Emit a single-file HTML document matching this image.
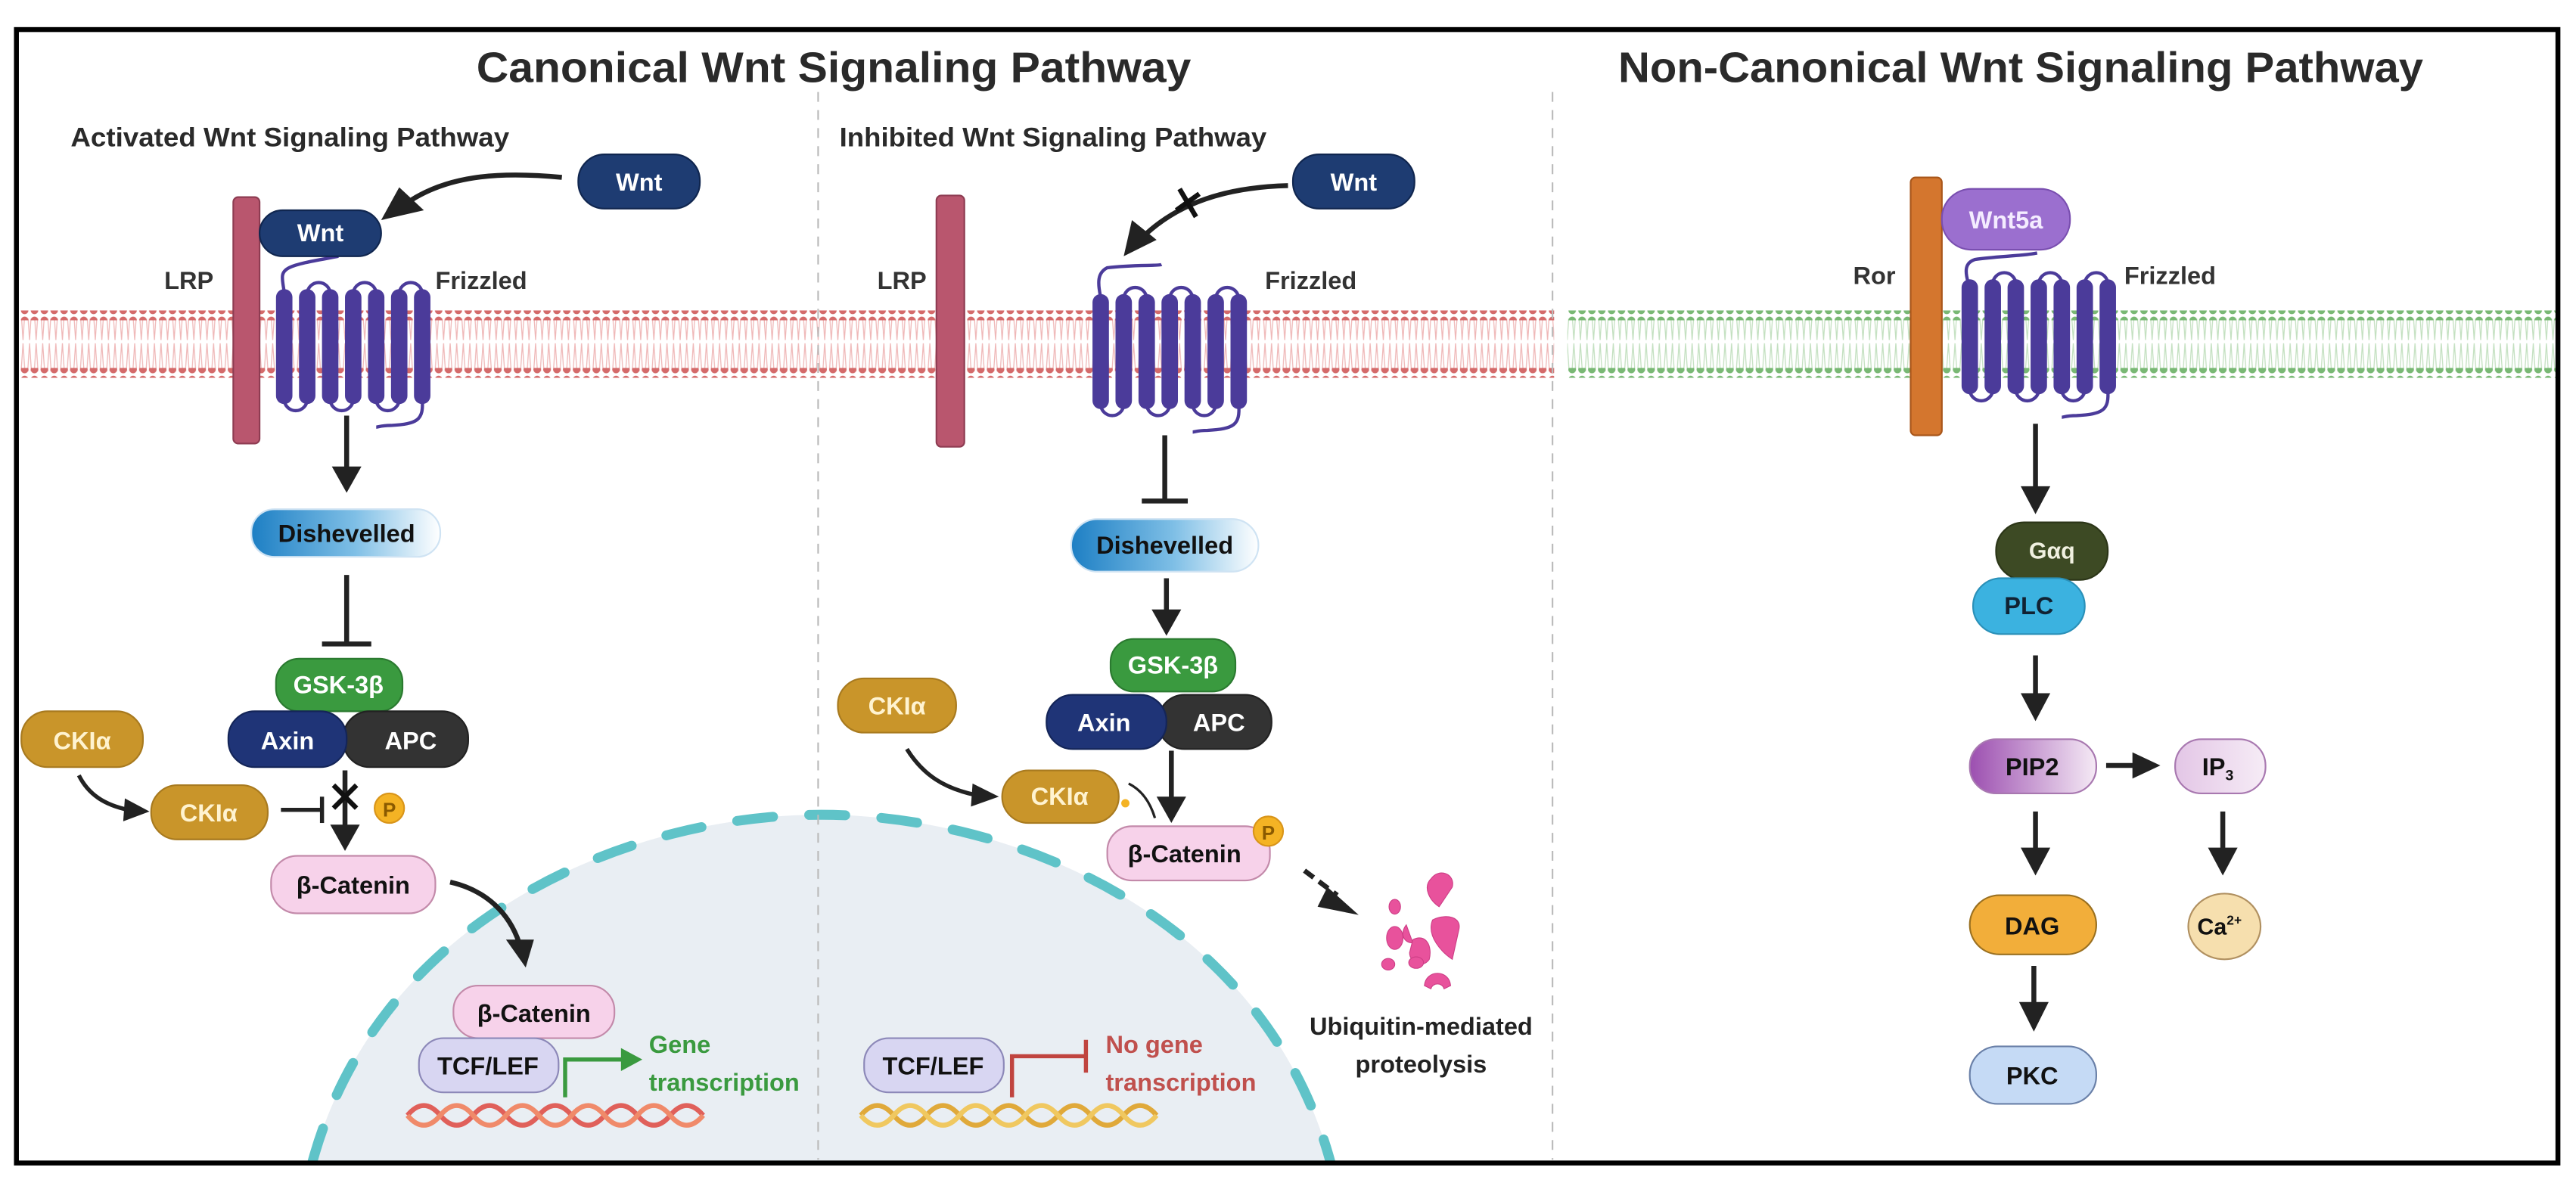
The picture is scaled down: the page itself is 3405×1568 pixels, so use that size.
<!DOCTYPE html>
<html><head><meta charset="utf-8"><style>
html,body{margin:0;padding:0;background:#fff;}
svg{display:block;}
text{font-family:"Liberation Sans",sans-serif;font-weight:bold;}
</style></head><body>
<svg width="3405" height="1568" viewBox="0 0 1568 722" preserveAspectRatio="none" xmlns="http://www.w3.org/2000/svg">
<defs>
<pattern id="rd" x="0" y="0" width="6" height="6" patternUnits="userSpaceOnUse"><circle cx="3" cy="3" r="2.3" fill="#d46a6a"/></pattern>
<pattern id="gd" x="0" y="0" width="6" height="6" patternUnits="userSpaceOnUse"><circle cx="3" cy="3" r="2.3" fill="#79b874"/></pattern>
<pattern id="rl" x="0" y="0" width="4" height="32" patternUnits="userSpaceOnUse"><path d="M1 0 L2 15 M3 0 L2 15 M1 32 L2 17 M3 32 L2 17" stroke="#efb8b8" stroke-width="0.6" fill="none"/></pattern>
<pattern id="gl" x="0" y="0" width="4" height="32" patternUnits="userSpaceOnUse"><path d="M1 0 L2 15 M3 0 L2 15 M1 32 L2 17 M3 32 L2 17" stroke="#c3e0c0" stroke-width="0.6" fill="none"/></pattern>
<linearGradient id="dsh" x1="0" x2="1"><stop offset="0" stop-color="#1d7fc4"/><stop offset="0.55" stop-color="#7fbfe6"/><stop offset="1" stop-color="#ffffff"/></linearGradient>
<linearGradient id="pip" x1="0" x2="1"><stop offset="0" stop-color="#9c4fb0"/><stop offset="1" stop-color="#f5eaf5"/></linearGradient>
<linearGradient id="ip3" x1="0" x2="1"><stop offset="0" stop-color="#e3c6e6"/><stop offset="1" stop-color="#f6ecf6"/></linearGradient>
<g id="fz">
  <g fill="none" stroke="#4b3b9a" stroke-width="2">
    <path d="M19 3 A7 7 0 0 1 33 3"/><path d="M47 3 A7 7 0 0 1 61 3"/><path d="M75 3 A7 7 0 0 1 89 3"/>
    <path d="M5 67 A7 7 0 0 0 19 67"/><path d="M33 67 A7 7 0 0 0 47 67"/><path d="M61 67 A7 7 0 0 0 75 67"/>
    <path d="M89 67 C90 80 86 82 70 83 C64 83 62 84 61 84"/>
  </g>
  <g fill="#4b3b9a">
    <rect x="0" y="0" width="10" height="70" rx="5"/><rect x="14" y="0" width="10" height="70" rx="5"/>
    <rect x="28" y="0" width="10" height="70" rx="5"/><rect x="42" y="0" width="10" height="70" rx="5"/>
    <rect x="56" y="0" width="10" height="70" rx="5"/><rect x="70" y="0" width="10" height="70" rx="5"/>
    <rect x="84" y="0" width="10" height="70" rx="5"/>
  </g>
</g>
</defs>

<!-- membranes -->
<rect x="12" y="194" width="934" height="32" fill="url(#rl)"/>
<rect x="12" y="189" width="934" height="6" fill="url(#rd)"/>
<rect x="12" y="224" width="934" height="6" fill="url(#rd)"/>
<rect x="954" y="194" width="602" height="32" fill="url(#gl)"/>
<rect x="954" y="189" width="602" height="6" fill="url(#gd)"/>
<rect x="954" y="224" width="602" height="6" fill="url(#gd)"/>

<!-- nucleus -->
<path d="M185 720 L190 708 C230 560 380 496 500 496 C620 496 770 560 810 708 L815 720 Z" fill="#e9eef3"/>
<path d="M190 708 C230 560 380 496 500 496 C620 496 770 560 810 708" fill="none" stroke="#5fc3c8" stroke-width="6" stroke-linecap="round" stroke-dasharray="22 22"/>
<rect x="12" y="709" width="1545" height="13" fill="#fff"/>

<!-- border & dividers -->
<line x1="498" y1="56" x2="498" y2="706" stroke="#bbb" stroke-width="1" stroke-dasharray="6 5"/>
<line x1="945" y1="56" x2="945" y2="706" stroke="#bbb" stroke-width="1" stroke-dasharray="6 5"/>
<rect x="10" y="18" width="1547" height="690" fill="none" stroke="#000" stroke-width="3"/>

<!-- titles -->
<text x="290" y="50" font-size="26" fill="#2a2a2a" textLength="435" lengthAdjust="spacingAndGlyphs">Canonical Wnt Signaling Pathway</text>
<text x="985" y="50" font-size="26" fill="#2a2a2a" textLength="490" lengthAdjust="spacingAndGlyphs">Non-Canonical Wnt Signaling Pathway</text>
<text x="43" y="89" font-size="16" fill="#2a2a2a" textLength="267" lengthAdjust="spacingAndGlyphs">Activated Wnt Signaling Pathway</text>
<text x="511" y="89" font-size="16" fill="#2a2a2a" textLength="260" lengthAdjust="spacingAndGlyphs">Inhibited Wnt Signaling Pathway</text>

<!-- ===== Activated ===== -->
<rect x="142" y="120" width="16" height="150" rx="3" fill="#b9566e" stroke="#8e3c52"/>
<text x="100" y="176" font-size="15" fill="#333">LRP</text>
<text x="265" y="176" font-size="15" fill="#333">Frizzled</text>
<path d="M173 178 C172 170 170 166 176 163 C182 160 196 158 206 156" stroke="#4b3b9a" stroke-width="2" fill="none"/>
<use href="#fz" x="168" y="176"/>
<rect x="158" y="128" width="74" height="28" rx="14" fill="#1e3c72" stroke="#10264f"/>
<text x="195" y="147" font-size="15" fill="#fff" text-anchor="middle">Wnt</text>
<rect x="352" y="94" width="74" height="33" rx="16" fill="#1e3c72" stroke="#10264f"/>
<text x="389" y="116" font-size="15" fill="#fff" text-anchor="middle">Wnt</text>
<path d="M342 108 C300 104 272 108 250 122" stroke="#222" stroke-width="3" fill="none"/>
<path d="M232 134 L243 114 L258 128 Z" fill="#222"/>
<line x1="211" y1="253" x2="211" y2="286" stroke="#222" stroke-width="3"/>
<path d="M202 284 L220 284 L211 300 Z" fill="#222"/>
<rect x="153" y="310" width="115" height="29" rx="14" fill="url(#dsh)" stroke="#cfe3f3"/>
<text x="211" y="330" font-size="15" fill="#111" text-anchor="middle">Dishevelled</text>
<line x1="211" y1="350" x2="211" y2="392" stroke="#222" stroke-width="3"/>
<line x1="196" y1="392" x2="226" y2="392" stroke="#222" stroke-width="3"/>
<rect x="168" y="401" width="77" height="32" rx="14" fill="#3a9a3f" stroke="#2b7a30"/>
<text x="206" y="422" font-size="15" fill="#fff" text-anchor="middle">GSK-3β</text>
<rect x="209" y="433" width="76" height="34" rx="16" fill="#333" stroke="#222"/>
<text x="250" y="456" font-size="15" fill="#fff" text-anchor="middle">APC</text>
<rect x="139" y="433" width="72" height="34" rx="16" fill="#1f3477" stroke="#142558"/>
<text x="175" y="456" font-size="15" fill="#fff" text-anchor="middle">Axin</text>
<rect x="13" y="433" width="74" height="34" rx="16" fill="#c9952a" stroke="#a87a1f"/>
<text x="50" y="456" font-size="15" fill="#fff3d0" text-anchor="middle">CKIα</text>
<rect x="92" y="478" width="71" height="33" rx="16" fill="#c9952a" stroke="#a87a1f"/>
<text x="127" y="500" font-size="15" fill="#fff3d0" text-anchor="middle">CKIα</text>
<path d="M48 472 C54 484 64 490 78 493" stroke="#222" stroke-width="2.5" fill="none"/>
<path d="M76 486 L91 494 L75 500 Z" fill="#222"/>
<line x1="171" y1="493" x2="195" y2="493" stroke="#222" stroke-width="2.5"/>
<line x1="196" y1="485" x2="196" y2="501" stroke="#222" stroke-width="2.5"/>
<line x1="210" y1="469" x2="210" y2="505" stroke="#222" stroke-width="3"/>
<path d="M201 502 L219 502 L210 518 Z" fill="#222"/>
<path d="M203 478 L217 492 M217 478 L203 492" stroke="#111" stroke-width="3"/>
<circle cx="237" cy="492" r="9" fill="#f4b324" stroke="#d9951a"/>
<text x="237" y="497" font-size="12" fill="#8a5a00" text-anchor="middle" font-weight="normal">P</text>
<rect x="165" y="521" width="100" height="35" rx="16" fill="#f7d2ea" stroke="#c38aaa"/>
<text x="215" y="544" font-size="15" fill="#111" text-anchor="middle">β-Catenin</text>
<path d="M274 537 C296 542 310 556 316 574" stroke="#222" stroke-width="3" fill="none"/>
<path d="M308 572 L325 572 L320 589 Z" fill="#222"/>
<!-- nuclear complex -->
<rect x="276" y="600" width="98" height="32" rx="15" fill="#f7d2ea" stroke="#c38aaa"/>
<text x="325" y="622" font-size="15" fill="#111" text-anchor="middle">β-Catenin</text>
<rect x="255" y="632" width="85" height="33" rx="15" fill="#d8d6f2" stroke="#8c88b8"/>
<text x="297" y="654" font-size="15" fill="#111" text-anchor="middle">TCF/LEF</text>
<polyline points="344,668 344,645 380,645" stroke="#3a9a3f" stroke-width="2.5" fill="none"/>
<path d="M378 638 L391 645 L378 652 Z" fill="#3a9a3f"/>
<text x="395" y="641" font-size="15" fill="#3a9a3f">Gene</text>
<text x="395" y="664" font-size="15" fill="#3a9a3f">transcription</text>
<path d="M248 679 Q258 667 268 679 T288 679 T308 679 T328 679 T348 679 T368 679 T388 679 T408 679 T428 679" stroke="#e0605a" stroke-width="3" fill="none"/>
<path d="M248 679 Q258 691 268 679 T288 679 T308 679 T328 679 T348 679 T368 679 T388 679 T408 679 T428 679" stroke="#f08a6a" stroke-width="3" fill="none"/>

<!-- ===== Inhibited ===== -->
<rect x="570" y="119" width="17" height="153" rx="3" fill="#b9566e" stroke="#8e3c52"/>
<text x="534" y="176" font-size="15" fill="#333">LRP</text>
<text x="770" y="176" font-size="15" fill="#333">Frizzled</text>
<path d="M670 181 C668 172 668 166 674 163 C690 161 705 162 707 161" stroke="#4b3b9a" stroke-width="2" fill="none"/>
<use href="#fz" x="665" y="179"/>
<rect x="787" y="94" width="74" height="33" rx="16" fill="#1e3c72" stroke="#10264f"/>
<text x="824" y="116" font-size="15" fill="#fff" text-anchor="middle">Wnt</text>
<path d="M784 113 C745 114 718 124 698 142" stroke="#222" stroke-width="3" fill="none"/>
<path d="M684 156 L689 134 L704 146 Z" fill="#222"/>
<path d="M718 115 L728 132 M716 128 L730 118" stroke="#111" stroke-width="3"/>
<line x1="709" y1="265" x2="709" y2="305" stroke="#222" stroke-width="3"/>
<line x1="695" y1="305" x2="723" y2="305" stroke="#222" stroke-width="3"/>
<rect x="652" y="316" width="114" height="32" rx="16" fill="url(#dsh)" stroke="#cfe3f3"/>
<text x="709" y="337" font-size="15" fill="#111" text-anchor="middle">Dishevelled</text>
<line x1="710" y1="352" x2="710" y2="374" stroke="#222" stroke-width="3"/>
<path d="M701 371 L719 371 L710 387 Z" fill="#222"/>
<rect x="676" y="389" width="76" height="32" rx="14" fill="#3a9a3f" stroke="#2b7a30"/>
<text x="714" y="410" font-size="15" fill="#fff" text-anchor="middle">GSK-3β</text>
<rect x="705" y="423" width="69" height="33" rx="16" fill="#333" stroke="#222"/>
<text x="742" y="445" font-size="15" fill="#fff" text-anchor="middle">APC</text>
<rect x="637" y="423" width="73" height="33" rx="16" fill="#1f3477" stroke="#142558"/>
<text x="672" y="445" font-size="15" fill="#fff" text-anchor="middle">Axin</text>
<rect x="510" y="413" width="72" height="33" rx="16" fill="#c9952a" stroke="#a87a1f"/>
<text x="546" y="435" font-size="15" fill="#fff3d0" text-anchor="middle">CKIα</text>
<rect x="610" y="469" width="71" height="32" rx="16" fill="#c9952a" stroke="#a87a1f"/>
<text x="645" y="490" font-size="15" fill="#fff3d0" text-anchor="middle">CKIα</text>
<path d="M552 456 C562 472 575 480 594 484" stroke="#222" stroke-width="2.5" fill="none"/>
<path d="M592 477 L608 485 L591 491 Z" fill="#222"/>
<circle cx="685" cy="489" r="2.5" fill="#f4b324"/>
<path d="M687 477 C695 481 700 488 703 498" stroke="#222" stroke-width="1.5" fill="none"/>
<line x1="713" y1="457" x2="713" y2="488" stroke="#222" stroke-width="3"/>
<path d="M704 485 L722 485 L713 501 Z" fill="#222"/>
<rect x="674" y="503" width="99" height="33" rx="15" fill="#f7d2ea" stroke="#c38aaa"/>
<text x="721" y="525" font-size="15" fill="#111" text-anchor="middle">β-Catenin</text>
<circle cx="772" cy="506" r="9" fill="#f4b324" stroke="#d9951a"/>
<text x="772" y="511" font-size="12" fill="#8a5a00" text-anchor="middle" font-weight="normal">P</text>
<line x1="794" y1="530" x2="814" y2="545" stroke="#222" stroke-width="3" stroke-dasharray="7 4"/>
<path d="M808 540 L827 557 L802 552 Z" fill="#222"/>
<g fill="#e8529c" stroke="#cc3d85" stroke-width="0.5">
<path d="M871 535 C876 528 886 532 884 540 L876 552 C870 548 866 540 871 535 Z"/>
<ellipse cx="849" cy="552" rx="3.5" ry="4.5"/>
<path d="M856 563 L860 574 C854 574 852 568 856 563 Z"/>
<path d="M872 560 C880 556 890 558 888 566 L884 584 C878 580 868 570 872 560 Z"/>
<ellipse cx="849" cy="571" rx="5" ry="7"/>
<path d="M860 572 C868 568 872 576 870 584 C866 590 858 586 858 580 Z"/>
<ellipse cx="845" cy="587" rx="4" ry="3.5"/>
<ellipse cx="862" cy="586" rx="4.5" ry="3.5"/>
<path d="M867 600 C868 590 882 590 883 600 L879 602 C878 598 872 598 871 602 Z"/>
</g>
<text x="865" y="630" font-size="15" fill="#222" text-anchor="middle">Ubiquitin-mediated</text>
<text x="865" y="653" font-size="15" fill="#222" text-anchor="middle">proteolysis</text>
<rect x="526" y="632" width="85" height="33" rx="15" fill="#d8d6f2" stroke="#8c88b8"/>
<text x="568" y="654" font-size="15" fill="#111" text-anchor="middle">TCF/LEF</text>
<polyline points="616,668 616,643 660,643" stroke="#c0443f" stroke-width="2.5" fill="none"/>
<line x1="661" y1="633" x2="661" y2="653" stroke="#c0443f" stroke-width="2.5"/>
<text x="673" y="641" font-size="15" fill="#c0504d">No gene</text>
<text x="673" y="664" font-size="15" fill="#c0504d">transcription</text>
<path d="M524 679 Q534 667 544 679 T564 679 T584 679 T604 679 T624 679 T644 679 T664 679 T684 679 T704 679" stroke="#e0a93a" stroke-width="3" fill="none"/>
<path d="M524 679 Q534 691 544 679 T564 679 T584 679 T604 679 T624 679 T644 679 T664 679 T684 679 T704 679" stroke="#f0c860" stroke-width="3" fill="none"/>

<!-- ===== Non-canonical ===== -->
<rect x="1163" y="108" width="19" height="157" rx="3" fill="#d4762e" stroke="#a8561a"/>
<text x="1128" y="173" font-size="15" fill="#333">Ror</text>
<text x="1293" y="173" font-size="15" fill="#333">Frizzled</text>
<path d="M1198 172 C1196 165 1196 160 1202 158 C1215 156 1230 156 1240 154" stroke="#4b3b9a" stroke-width="2" fill="none"/>
<use href="#fz" x="1194" y="170"/>
<rect x="1182" y="115" width="78" height="37" rx="18" fill="#9b6fcf" stroke="#7a4fb0"/>
<text x="1221" y="139" font-size="15" fill="#f4ecff" text-anchor="middle" font-weight="normal">Wnt5a</text>
<line x1="1239" y1="258" x2="1239" y2="298" stroke="#222" stroke-width="3"/>
<path d="M1230 296 L1248 296 L1239 313 Z" fill="#222"/>
<rect x="1215" y="318" width="68" height="35" rx="17" fill="#3d4a24" stroke="#2c3618"/>
<text x="1249" y="340" font-size="14" fill="#f0f0e0" text-anchor="middle">Gαq</text>
<rect x="1201" y="352" width="68" height="34" rx="17" fill="#3bb2e0" stroke="#2a90b8"/>
<text x="1235" y="374" font-size="15" fill="#123" text-anchor="middle">PLC</text>
<line x1="1239" y1="399" x2="1239" y2="424" stroke="#222" stroke-width="3"/>
<path d="M1230 422 L1248 422 L1239 439 Z" fill="#222"/>
<rect x="1199" y="450" width="77" height="33" rx="16" fill="url(#pip)" stroke="#a878b0"/>
<text x="1237" y="472" font-size="15" fill="#111" text-anchor="middle">PIP2</text>
<line x1="1282" y1="466" x2="1300" y2="466" stroke="#222" stroke-width="3"/>
<path d="M1298 458 L1315 466 L1298 474 Z" fill="#222"/>
<rect x="1324" y="450" width="55" height="33" rx="16" fill="url(#ip3)" stroke="#a878b0"/>
<text x="1350" y="472" font-size="15" fill="#111" text-anchor="middle">IP<tspan font-size="9" dy="3">3</tspan></text>
<line x1="1239" y1="494" x2="1239" y2="518" stroke="#222" stroke-width="3"/>
<path d="M1230 516 L1248 516 L1239 533 Z" fill="#222"/>
<line x1="1353" y1="494" x2="1353" y2="518" stroke="#222" stroke-width="3"/>
<path d="M1344 516 L1362 516 L1353 533 Z" fill="#222"/>
<rect x="1199" y="545" width="77" height="36" rx="18" fill="#f2ae3a" stroke="#9a7020"/>
<text x="1237" y="569" font-size="15" fill="#111" text-anchor="middle">DAG</text>
<ellipse cx="1354" cy="564" rx="22" ry="20" fill="#f6dfae" stroke="#b09060"/>
<text x="1351" y="569" font-size="14" fill="#111" text-anchor="middle">Ca<tspan font-size="8" dy="-6">2+</tspan></text>
<line x1="1238" y1="588" x2="1238" y2="612" stroke="#222" stroke-width="3"/>
<path d="M1229 610 L1247 610 L1238 628 Z" fill="#222"/>
<rect x="1199" y="637" width="77" height="35" rx="17" fill="#c5daf5" stroke="#6a80a8"/>
<text x="1237" y="660" font-size="15" fill="#111" text-anchor="middle">PKC</text>
</svg>
</body></html>
